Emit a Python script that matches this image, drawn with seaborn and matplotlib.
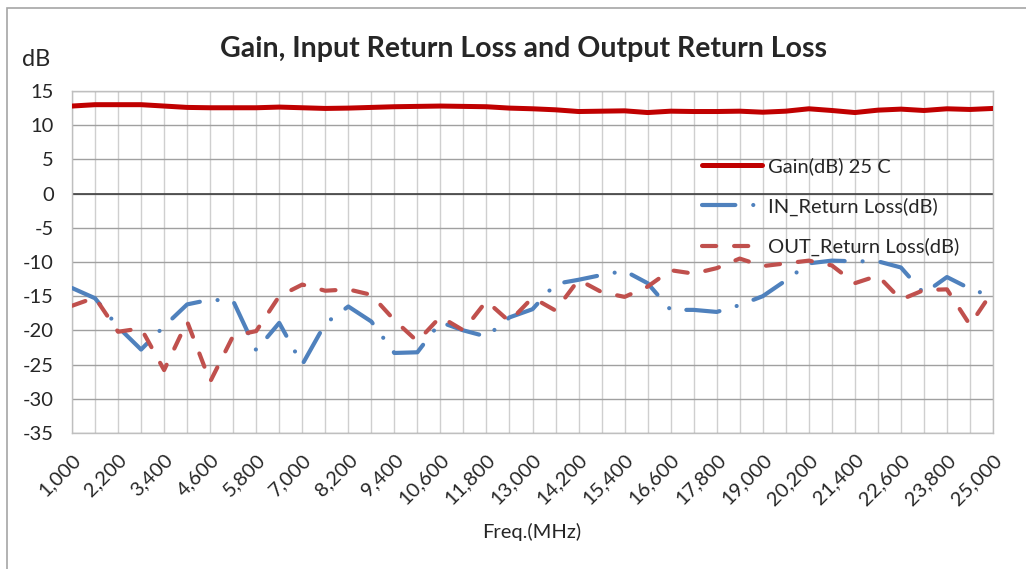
import matplotlib
matplotlib.use("Agg")
import matplotlib.pyplot as plt
from matplotlib.patches import Rectangle
import seaborn as sns

# frequency points (MHz), one every 600 MHz
freqs = [1000, 1600, 2200, 2800, 3400, 4000, 4600, 5200, 5800, 6400,
         7000, 7600, 8200, 8800, 9400, 10000, 10600, 11200, 11800, 12400,
         13000, 13600, 14200, 14800, 15400, 16000, 16600, 17200, 17800, 18400,
         19000, 19600, 20200, 20800, 21400, 22000, 22600, 23200, 23800, 24400,
         25000]

gain = [12.8, 13.0, 13.0, 13.0, 12.8, 12.6, 12.55, 12.55, 12.55, 12.65,
        12.55, 12.45, 12.5, 12.6, 12.7, 12.75, 12.8, 12.75, 12.7, 12.5,
        12.4, 12.25, 12.0, 12.05, 12.1, 11.85, 12.05, 12.0, 12.0, 12.05,
        11.9, 12.05, 12.4, 12.15, 11.85, 12.2, 12.35, 12.15, 12.4, 12.3,
        12.45]

in_rl = [-13.8, -15.3, -19.5, -22.8, -19.4, -16.2, -15.5, -15.7, -22.9, -18.9,
         -25.0, -19.0, -16.5, -18.7, -23.3, -23.2, -18.8, -20.0, -20.9, -18.1,
         -16.9, -13.2, -12.6, -11.9, -11.3, -13.1, -17.0, -17.0, -17.3, -16.3,
         -15.0, -12.7, -10.2, -9.8, -9.9, -9.9, -10.8, -14.6, -12.2, -13.9,
         -15.1]

out_rl = [-16.4, -15.2, -20.2, -19.7, -25.8, -18.7, -27.5, -20.8, -20.1, -15.0,
          -13.3, -14.2, -14.0, -14.8, -18.5, -21.6, -18.0, -20.0, -15.7, -18.7,
          -15.2, -17.1, -12.6, -14.4, -15.1, -13.6, -11.2, -11.7, -10.9, -9.5,
          -10.6, -10.2, -9.8, -10.5, -13.1, -12.0, -15.5, -14.1, -14.0, -19.2,
          -14.2]

y_ticks = [15, 10, 5, 0, -5, -10, -15, -20, -25, -30, -35]
x_ticks = freqs[::2]

sns.set_theme(style="white")
plt.rcParams["font.family"] = ["Lato", "DejaVu Sans"]

W, H = 1026, 569
fig = plt.figure(figsize=(W / 100, H / 100), dpi=100)
ax = fig.add_axes([72 / W, 1 - 433 / H, 921 / W, 342 / H])

sns.lineplot(x=freqs, y=gain, ax=ax, color="#C00000", linewidth=3.6,
             solid_capstyle="round", label="Gain(dB) 25 C", zorder=5)
sns.lineplot(x=freqs, y=in_rl, ax=ax, color="#4F81BD", linewidth=3.0,
             linestyle=(0, (8, 4.3, 0.01, 4.3)), dash_capstyle="round",
             label="IN_Return Loss(dB)", zorder=4)
sns.lineplot(x=freqs, y=out_rl, ax=ax, color="#C0504D", linewidth=3.0,
             linestyle=(0, (3.4, 4.3)), dash_capstyle="round",
             label="OUT_Return Loss(dB)", zorder=4)

ax.set_xlim(1000, 25000)
ax.set_ylim(-35, 15)
ax.set_yticks(y_ticks)
ax.set_yticklabels([str(v) for v in y_ticks], fontsize=14.5, color="#262626")
ax.set_xticks(x_ticks)
ax.set_xticklabels([f"{v:,}" for v in x_ticks], rotation=45, ha="right",
                   rotation_mode="anchor", fontsize=14.5, color="#262626")
ax.set_xticks(freqs, minor=True)
ax.tick_params(axis="both", length=0)
ax.tick_params(axis="y", pad=13)
ax.tick_params(axis="x", pad=13)

ax.grid(axis="x", which="both", color="#CFCFCF", linewidth=1.0)
ax.grid(axis="y", which="major", color="#A0A0A0", linewidth=1.0)
ax.axhline(0, color="#404040", linewidth=1.2, zorder=2)
ax.set_axisbelow(True)
for s in ax.spines.values():
    s.set_color("#BFBFBF")
    s.set_linewidth(1.0)

ax.set_xlabel("")
ax.set_ylabel("")

leg = ax.legend(loc="upper left", bbox_to_anchor=(0.675, 0.83), frameon=False,
                fontsize=14.5, handlelength=3.0, handletextpad=0.3,
                labelspacing=1.1, borderaxespad=0)
for t in leg.get_texts():
    t.set_color("#262626")

fig.text(524 / W, 1 - 49 / H, "Gain, Input Return Loss and Output Return Loss",
         ha="center", va="center", fontsize=20.5, fontweight="bold", color="#262626")
fig.text(22 / W, 1 - 60 / H, "dB", ha="left", va="center", fontsize=17, color="#262626")
fig.text(532 / W, 1 - 532 / H, "Freq.(MHz)", ha="center", va="center",
         fontsize=14.5, color="#262626")

fig.patches.append(Rectangle((7 / W, -0.1), 1.2, 1 - 8 / H + 0.1,
                             transform=fig.transFigure, fill=False,
                             edgecolor="#A6A6A6", linewidth=1.2))

fig.savefig("out.png", dpi=100)
